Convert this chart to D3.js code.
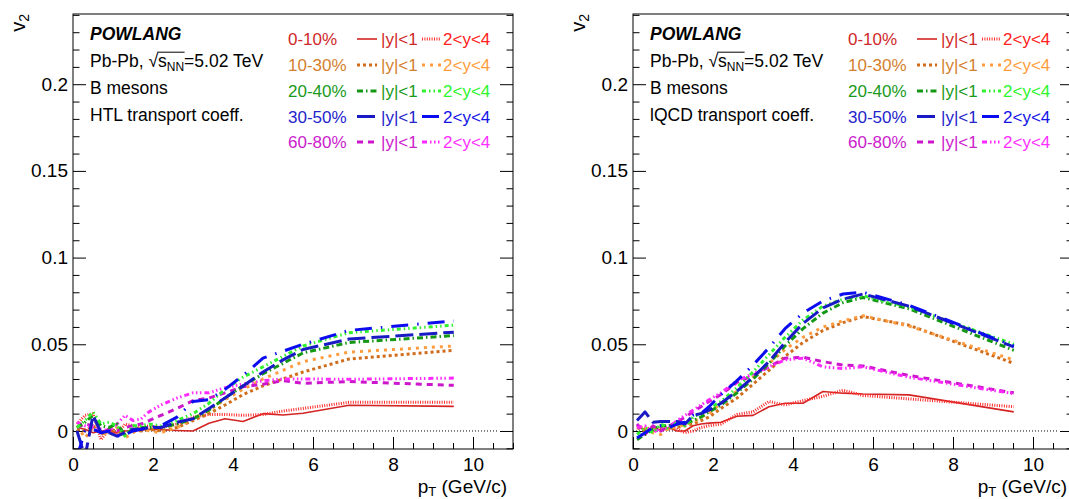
<!DOCTYPE html>
<html><head><meta charset="utf-8">
<script src="https://cdn.jsdelivr.net/npm/d3@7"></script>
<style>
body{margin:0;background:#fff;}
svg{display:block;}
text{font-family:"Liberation Sans",Arial,Helvetica,sans-serif;}
</style>
</head><body><svg id="c" width="1069" height="499"></svg>
<script>
// ---------------- data ----------------
const pt = [0.1,0.3,0.5,0.7,0.9,1.1,1.3,1.5,1.7,1.9,2.2,2.6,3.0,3.4,3.8,4.25,4.75,5.25,5.75,6.9,9.52];

// HTL transport coefficient (left panel)
const htl_c0010_mid = [0.002,0.001,-0.001,0.000,0.000,-0.001,0.000,0.000,0.0005,0.001,0.0008,0.0003,0.000,0.0045,0.007,0.0055,0.010,0.0092,0.0102,0.0148,0.0142];
const htl_c0010_fwd = [0.004,0.009,0.010,-0.005,0.001,-0.002,0.004,0.003,0.002,0.003,0.002,0.004,0.008,0.0095,0.0095,0.009,0.0095,0.0115,0.013,0.0165,0.0165];
const htl_c1030_mid = [0.001,0.000,0.003,-0.002,0.001,0.000,-0.002,0.001,0.000,0.001,0.000,0.002,0.006,0.010,0.015,0.021,0.026,0.030,0.034,0.0415,0.0465];
const htl_c1030_fwd = [0.003,-0.004,0.002,0.000,-0.003,0.002,-0.004,-0.001,0.002,0.000,-0.001,0.002,0.007,0.012,0.018,0.024,0.030,0.035,0.040,0.0455,0.049];
const htl_c2040_mid = [0.002,0.005,0.009,0.003,0.002,0.004,-0.002,0.001,0.002,0.002,0.002,0.004,0.007,0.012,0.019,0.026,0.033,0.039,0.045,0.051,0.055];
const htl_c2040_fwd = [0.002,0.006,0.011,0.004,0.005,0.003,-0.003,0.003,0.003,0.004,0.003,0.006,0.010,0.016,0.024,0.031,0.037,0.043,0.049,0.0567,0.061];
const htl_c3050_mid = [0.000,-0.015,0.009,-0.001,-0.001,-0.003,-0.001,0.001,0.001,0.002,0.002,0.005,0.007,0.013,0.019,0.026,0.034,0.041,0.047,0.053,0.057];
const htl_c3050_fwd = [-0.015,0.000,0.001,-0.001,0.000,-0.003,-0.002,0.000,0.001,0.002,0.003,0.008,0.017,0.018,0.024,0.032,0.042,0.046,0.050,0.058,0.0635];
const htl_c6080_mid = [0.002,0.004,0.003,-0.001,0.001,0.000,0.002,0.003,0.004,0.006,0.009,0.013,0.0175,0.019,0.022,0.0255,0.027,0.029,0.0275,0.0285,0.0263];
const htl_c6080_fwd = [0.005,0.003,0.002,0.001,0.000,0.004,0.009,0.006,0.007,0.011,0.015,0.019,0.022,0.022,0.025,0.027,0.029,0.030,0.030,0.0298,0.0305];

// lQCD transport coefficient (right panel)
const lqcd_c0010_mid = [0.002,0.001,0.000,0.001,0.002,0.000,0.000,0.003,0.004,0.0045,0.005,0.0085,0.009,0.014,0.016,0.016,0.0228,0.0218,0.0213,0.0208,0.011];
const lqcd_c0010_fwd = [0.003,0.001,0.002,0.001,0.0015,0.001,-0.001,0.000,0.002,0.003,0.004,0.0095,0.011,0.017,0.015,0.0175,0.020,0.0235,0.0205,0.0185,0.014];
const lqcd_c1030_mid = [0.002,0.000,0.001,0.002,0.001,0.002,0.003,0.004,0.006,0.008,0.013,0.019,0.027,0.035,0.043,0.051,0.058,0.0625,0.066,0.061,0.039];
const lqcd_c1030_fwd = [0.003,0.002,-0.001,-0.002,0.002,0.002,0.004,0.005,0.008,0.010,0.016,0.023,0.031,0.039,0.047,0.054,0.060,0.0635,0.0665,0.0605,0.041];
const lqcd_c2040_mid = [-0.005,-0.002,0.001,0.003,0.003,0.004,0.004,0.006,0.008,0.011,0.015,0.022,0.030,0.039,0.049,0.059,0.068,0.074,0.077,0.0705,0.0465];
const lqcd_c2040_fwd = [-0.002,0.002,-0.001,0.004,0.001,0.005,0.003,0.008,0.010,0.013,0.017,0.025,0.034,0.044,0.054,0.064,0.072,0.076,0.078,0.0715,0.050];
const lqcd_c3050_mid = [0.006,0.011,0.005,0.0055,0.0055,0.0055,0.004,0.009,0.010,0.012,0.016,0.023,0.031,0.040,0.051,0.062,0.071,0.076,0.079,0.072,0.0485];
const lqcd_c3050_fwd = [-0.004,-0.001,0.002,0.003,0.002,0.004,0.005,0.009,0.010,0.014,0.021,0.029,0.038,0.048,0.059,0.068,0.075,0.079,0.080,0.0725,0.049];
const lqcd_c6080_mid = [0.004,-0.002,0.003,0.000,0.003,0.005,0.008,0.011,0.014,0.017,0.021,0.028,0.032,0.037,0.042,0.0425,0.040,0.038,0.0375,0.032,0.022];
const lqcd_c6080_fwd = [0.002,0.003,-0.001,0.002,0.002,0.006,0.009,0.012,0.015,0.018,0.022,0.029,0.033,0.037,0.041,0.042,0.037,0.036,0.037,0.031,0.0215];

const centralities = ["0-10%","10-30%","20-40%","30-50%","60-80%"];
const rapidities = ["|y|<1","2<y<4"];
const xMajorTicks = [0,2,4,6,8,10];
const yMajorTicks = [0,0.05,0.1,0.15,0.2];
const panelNotes = ["HTL transport coeff.","lQCD transport coeff."];
const modelName = "POWLANG";
const systemText = ["Pb-Pb, ","\u221A","s","NN","=5.02 TeV"];
const particleText = "B mesons";

// ---------------- styles ----------------
const styles = {
  c0010_mid:{color:"#d42424",width:1.6,dash:null},
  c0010_fwd:{color:"#ff2a2a",width:3,dash:"1,1.4"},
  c1030_mid:{color:"#cf6d1c",width:3,dash:"3,3"},
  c1030_fwd:{color:"#ff9c40",width:3,dash:"3,5"},
  c2040_mid:{color:"#149814",width:3,dash:"6,3,1.5,3"},
  c2040_fwd:{color:"#30f030",width:3,dash:"4,3,1.5,3,1.5,3"},
  c3050_mid:{color:"#1a1ac4",width:3,dash:"18,6"},
  c3050_fwd:{color:"#0c0cf0",width:3,dash:"17,9,1.5,9"},
  c6080_mid:{color:"#cc16cc",width:3,dash:"6,5"},
  c6080_fwd:{color:"#ff28ff",width:3,dash:"5,3,1.5,2.5,1.5,2.5,1.5,3"}
};
const textColors = {
  c0010:["#d02828","#ff2020"], c1030:["#d4802e","#ff9d3e"], c2040:["#1a9a1a","#2ef52e"],
  c3050:["#2424cc","#1212e6"], c6080:["#cc20cc","#ff30ff"]
};
const cKeys = ["c0010","c1030","c2040","c3050","c6080"];

const panels = [
  {x0:73, x1:513, note:panelNotes[0], series:{
    c0010_mid:htl_c0010_mid,c0010_fwd:htl_c0010_fwd,c1030_mid:htl_c1030_mid,c1030_fwd:htl_c1030_fwd,
    c2040_mid:htl_c2040_mid,c2040_fwd:htl_c2040_fwd,c3050_mid:htl_c3050_mid,c3050_fwd:htl_c3050_fwd,
    c6080_mid:htl_c6080_mid,c6080_fwd:htl_c6080_fwd}},
  {x0:633, x1:1073, note:panelNotes[1], series:{
    c0010_mid:lqcd_c0010_mid,c0010_fwd:lqcd_c0010_fwd,c1030_mid:lqcd_c1030_mid,c1030_fwd:lqcd_c1030_fwd,
    c2040_mid:lqcd_c2040_mid,c2040_fwd:lqcd_c2040_fwd,c3050_mid:lqcd_c3050_mid,c3050_fwd:lqcd_c3050_fwd,
    c6080_mid:lqcd_c6080_mid,c6080_fwd:lqcd_c6080_fwd}}
];

// ---------------- drawing ----------------
const svg = d3.select("#c");
svg.append("rect").attr("width",1069).attr("height",499).attr("fill","#fff");
const yTop = 14, yBot = 449;
const FONT = '"Liberation Sans",Arial,Helvetica,sans-serif';

panels.forEach((p,pi)=>{
  const xs = d3.scaleLinear().domain([0,11]).range([p.x0,p.x1]);
  const ys = d3.scaleLinear().domain([-0.0104,0.2405]).range([yBot,yTop]);
  const g = svg.append("g");

  const clipId = "clip"+pi;
  svg.append("clipPath").attr("id",clipId).append("rect")
    .attr("x",p.x0).attr("y",yTop).attr("width",p.x1-p.x0).attr("height",yBot-yTop);

  // axes
  const xMinor = d3.range(0,11.01,0.5).filter(v=>Math.abs(v/2-Math.round(v/2))>1e-6);
  const yMinor = d3.range(-10,241,10).map(v=>v/1000).filter(v=>Math.abs(v*20-Math.round(v*20))>1e-6);
  const fmtY = d=> d===0 ? "0" : String(+d.toFixed(2));

  const styleAxis = a => { a.select(".domain").remove(); a.attr("font-family",FONT).attr("font-size",19); a.selectAll("text").attr("fill","#000"); a.selectAll("line").attr("stroke","#000"); };

  g.append("g").attr("transform",`translate(0,${yBot})`)
    .call(d3.axisBottom(xs).tickValues(xMajorTicks).tickSizeInner(-12).tickSizeOuter(0).tickPadding(9).tickFormat(d3.format("d")))
    .call(styleAxis);
  g.append("g").attr("transform",`translate(0,${yBot})`)
    .call(d3.axisBottom(xs).tickValues(xMinor).tickSizeInner(-6).tickSizeOuter(0).tickFormat(""))
    .call(styleAxis);
  g.append("g").attr("transform",`translate(${p.x0},0)`)
    .call(d3.axisLeft(ys).tickValues(yMajorTicks).tickSizeInner(-13).tickSizeOuter(0).tickPadding(5).tickFormat(fmtY))
    .call(styleAxis);
  g.append("g").attr("transform",`translate(${p.x0},0)`)
    .call(d3.axisLeft(ys).tickValues(yMinor).tickSizeInner(-6.5).tickSizeOuter(0).tickFormat(""))
    .call(styleAxis);
  g.append("g").attr("transform",`translate(${p.x1},0)`)
    .call(d3.axisRight(ys).tickValues(yMajorTicks).tickSizeInner(-13).tickSizeOuter(0).tickFormat(""))
    .call(styleAxis);
  g.append("g").attr("transform",`translate(${p.x1},0)`)
    .call(d3.axisRight(ys).tickValues(yMinor).tickSizeInner(-6.5).tickSizeOuter(0).tickFormat(""))
    .call(styleAxis);

  // zero line
  g.append("line").attr("x1",xs(0)).attr("x2",xs(10.65)).attr("y1",ys(0)).attr("y2",ys(0))
    .attr("stroke","#000").attr("stroke-width",1).attr("stroke-dasharray","1,2");

  // curves
  const line = d3.line().x((d,i)=>xs(pt[i])).y(d=>ys(d));
  const order = ["c0010_mid","c0010_fwd","c1030_mid","c1030_fwd","c6080_mid","c6080_fwd","c2040_mid","c2040_fwd","c3050_mid","c3050_fwd"];
  const cg = g.append("g").attr("clip-path",`url(#${clipId})`);
  order.forEach(k=>{
    const s = styles[k];
    cg.append("path").datum(p.series[k]).attr("d",line)
      .attr("fill","none").attr("stroke",s.color).attr("stroke-width",s.width)
      .attr("stroke-dasharray",s.dash).attr("stroke-linejoin","round");
  });

  // frame
  g.append("rect").attr("x",p.x0).attr("y",yTop).attr("width",p.x1-p.x0).attr("height",yBot-yTop)
    .attr("fill","none").attr("stroke","#000").attr("stroke-width",1);

  // axis titles
  const vt = g.append("text").attr("transform",`translate(${p.x0-48},${yTop})rotate(-90)`)
    .attr("text-anchor","end").attr("font-size",20).attr("fill","#000");
  vt.append("tspan").text("v");
  vt.append("tspan").attr("font-size",14).attr("dy",4).text("2");
  const pt_t = g.append("text").attr("x",p.x1-6).attr("y",493).attr("text-anchor","end")
    .attr("font-size",19).attr("fill","#000");
  pt_t.append("tspan").text("p");
  pt_t.append("tspan").attr("font-size",13).attr("dy",3).text("T");
  pt_t.append("tspan").attr("dy",-3).text(" (GeV/c)");

  // text block
  const tx = p.x0 + 17;
  g.append("text").attr("x",tx).attr("y",40).attr("font-size",17.5).attr("font-weight","bold")
    .attr("font-style","italic").attr("fill","#000").text(modelName);
  const st = g.append("text").attr("x",tx).attr("y",67).attr("font-size",17.5).attr("fill","#000");
  st.append("tspan").text(systemText[0]);
  st.append("tspan").text(systemText[1]);
  st.append("tspan").text(systemText[2]);
  st.append("tspan").attr("font-size",12).attr("dy",4).text(systemText[3]);
  st.append("tspan").attr("dy",-4).text(systemText[4]);
  const e7 = st.node().getExtentOfChar(7), e10 = st.node().getExtentOfChar(10);
  g.append("line").attr("x1",e7.x+e7.width-1).attr("x2",e10.x+e10.width+0.5)
    .attr("y1",e7.y+1.2).attr("y2",e7.y+1.2).attr("stroke","#000").attr("stroke-width",1);
  g.append("text").attr("x",tx).attr("y",94).attr("font-size",17.5).attr("fill","#000").text(particleText);
  g.append("text").attr("x",tx).attr("y",121).attr("font-size",17.5).attr("fill","#000").text(p.note);

  // legend
  const rowY = [45,71,97,122.5,148];
  cKeys.forEach((ck,i)=>{
    const y = rowY[i];
    g.append("text").attr("x",p.x0+215).attr("y",y).attr("font-size",17).attr("fill",textColors[ck][0]).text(centralities[i]);
    const sm = styles[ck+"_mid"], sf = styles[ck+"_fwd"];
    g.append("line").attr("x1",p.x0+284).attr("x2",p.x0+304).attr("y1",y-6).attr("y2",y-6)
      .attr("stroke",sm.color).attr("stroke-width",sm.width).attr("stroke-dasharray",sm.dash);
    g.append("text").attr("x",p.x0+308).attr("y",y).attr("font-size",17).attr("fill",textColors[ck][0]).text(rapidities[0]);
    g.append("line").attr("x1",p.x0+349).attr("x2",p.x0+368).attr("y1",y-6).attr("y2",y-6)
      .attr("stroke",sf.color).attr("stroke-width",sf.width).attr("stroke-dasharray",sf.dash);
    g.append("text").attr("x",p.x0+370).attr("y",y).attr("font-size",17).attr("fill",textColors[ck][1]).text(rapidities[1]);
  });
});
</script>
</body></html>
